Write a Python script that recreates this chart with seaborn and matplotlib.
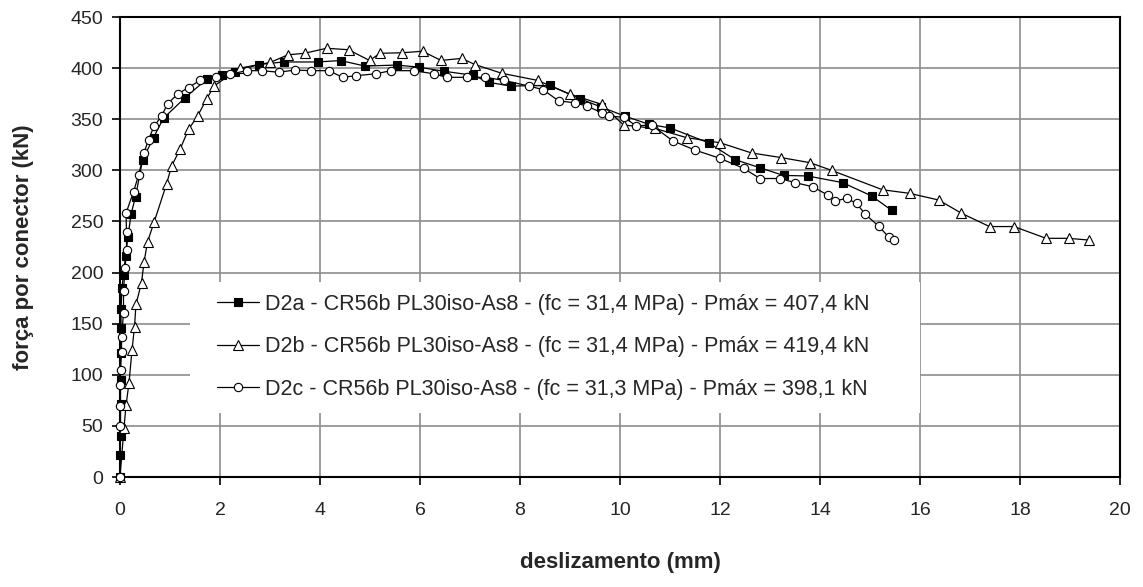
import matplotlib
matplotlib.use("Agg")
import matplotlib.pyplot as plt
from matplotlib.patches import Rectangle
import numpy as np
import pandas as pd
import seaborn as sns

# Load-slip curves of the three push-out specimens (slip in mm, load per connector in kN)
d2a_slip = [0, 0, 0.01, 0.01, 0.01, 0.01, 0.02, 0.02, 0.04, 0.07,
            0.11, 0.16, 0.22, 0.31, 0.45, 0.67, 0.87, 1.3, 1.73, 2.03,
            2.3, 2.77, 3.27, 3.95, 4.41, 4.9, 5.53, 5.97, 6.47, 7.06,
            7.38, 7.81, 8.6, 9.2, 9.62, 10.1, 10.58, 11.0, 11.77, 12.3,
            12.8, 13.27, 13.75, 14.45, 15.03, 15.43]
d2a_load = [0, 22, 40, 71, 95, 121, 146, 164, 185, 198,
            216, 235, 257, 274, 310, 332, 351, 371, 389, 393,
            396.5, 403.5, 406, 406, 407.4, 402, 403, 401, 397, 393,
            386, 382.5, 383, 370, 362, 353, 345, 341.5, 327, 310.5,
            302.5, 295, 294.5, 288, 275, 261]

d2b_slip = [0, 0.08, 0.12, 0.18, 0.24, 0.29, 0.32, 0.43, 0.48, 0.55,
            0.68, 0.93, 1.03, 1.2, 1.37, 1.55, 1.73, 1.88, 2.4, 3.0,
            3.36, 3.69, 4.13, 4.57, 4.99, 5.2, 5.64, 6.05, 6.42, 6.83,
            7.1, 7.63, 8.35, 8.99, 9.63, 10.07, 10.7, 11.33, 12.0, 12.63,
            13.22, 13.8, 14.23, 15.25, 15.79, 16.37, 16.83, 17.39, 17.88, 18.52,
            18.97, 19.37]
d2b_load = [0, 48, 70, 92, 124, 147, 169, 190, 210, 230,
            249, 286.5, 304, 320.5, 340, 353, 369.5, 382.5, 400, 405.5,
            413, 414.5, 419.4, 418, 407.5, 414.5, 415, 416.5, 407.5, 409.5,
            403.5, 395, 388, 374.7, 364.6, 344.4, 341, 332, 327, 317,
            312.5, 307.5, 300, 281, 277.5, 271, 258, 245, 245, 233.5,
            233.5, 231.8]

d2c_slip = [0, 0, 0, 0, 0.01, 0.03, 0.03, 0.07, 0.07, 0.1,
            0.13, 0.13, 0.12, 0.27, 0.37, 0.48, 0.57, 0.68, 0.83, 0.95,
            1.15, 1.37, 1.6, 1.92, 2.2, 2.53, 2.83, 3.17, 3.5, 3.82,
            4.18, 4.45, 4.71, 5.12, 5.42, 5.87, 6.27, 6.53, 6.94, 7.3,
            7.68, 8.17, 8.46, 8.77, 9.1, 9.33, 9.63, 9.77, 10.08, 10.32,
            10.63, 11.05, 11.49, 12.0, 12.47, 12.8, 13.2, 13.5, 13.85, 14.15,
            14.3, 14.53, 14.73, 14.9, 15.17, 15.37, 15.48]
d2c_load = [0, 50, 69, 90, 105, 122, 137, 160, 182, 204,
            222, 240, 258, 279, 295, 317, 330, 343, 353, 365,
            374.5, 381, 388, 391, 394, 397.5, 397.5, 396, 398.1, 397.5,
            397.5, 391, 392.5, 394.5, 397.5, 397.5, 394.5, 391, 391, 391,
            388, 382.5, 379, 368, 366, 363, 356.5, 353, 352, 343.5,
            344.4, 329, 320, 311.7, 302, 292, 292, 288, 284, 276,
            270, 272.6, 267.7, 257.3, 245.5, 235, 231.8]

series_labels = [
    "D2a - CR56b PL30iso-As8 - (fc = 31,4 MPa) - Pmáx = 407,4 kN",
    "D2b - CR56b PL30iso-As8 - (fc = 31,4 MPa) - Pmáx = 419,4 kN",
    "D2c - CR56b PL30iso-As8 - (fc = 31,3 MPa) - Pmáx = 398,1 kN",
]
x_ticks = list(range(0, 21, 2))
y_ticks = list(range(0, 451, 50))

sns.set_style("ticks")
plt.rcParams["font.family"] = ["Liberation Sans", "DejaVu Sans"]

fig = plt.figure(figsize=(11.43, 5.87), dpi=100)
ax = fig.add_axes([120 / 1143, 110 / 587, 1000 / 1143, 460 / 587])

styles = [
    dict(marker="s", markersize=5.4, markerfacecolor="black"),
    dict(marker="^", markersize=7.2, markerfacecolor="white"),
    dict(marker="o", markersize=6.0, markerfacecolor="white"),
]
curves = [(d2a_slip, d2a_load), (d2b_slip, d2b_load), (d2c_slip, d2c_load)]

handles = []
for (xs, ys), lab, st in zip(curves, series_labels, styles):
    df = pd.DataFrame({"slip": xs, "load": ys})
    n_before = len(ax.lines)
    sns.lineplot(data=df, x="slip", y="load", ax=ax, sort=False, estimator=None,
                 color="black", linewidth=0.9, markeredgecolor="black",
                 markeredgewidth=0.8, clip_on=False, zorder=4, **st)
    handles.append(ax.lines[n_before])

ax.set_xlim(0, 20)
ax.set_ylim(0, 450)
ax.set_xticks(x_ticks)
ax.set_yticks(y_ticks)
ax.grid(True, color="#8c8c8c", linewidth=1.2)
ax.set_axisbelow(True)
for side in ["left", "bottom", "top", "right"]:
    ax.spines[side].set_visible(True)
    ax.spines[side].set_color("black")
    ax.spines[side].set_linewidth(1.5)
ax.tick_params(axis="both", direction="out", length=6, width=1.2, color="black",
               labelsize=14, pad=6, top=False, right=False)
ax.tick_params(axis="x", pad=12)

ax.set_xlabel("deslizamento (mm)", fontsize=16, fontweight="bold", labelpad=24)
ax.set_ylabel("força por conector (kN)", fontsize=16, fontweight="bold", labelpad=26)

# white panel behind the legend entries hides the grid there
ax.add_patch(Rectangle((0.07, 0.139), 0.73, 0.285, transform=ax.transAxes,
                       facecolor="white", edgecolor="none", zorder=2))
leg = ax.legend(handles, series_labels, loc="upper left", bbox_to_anchor=(0.097, 0.398),
                frameon=False, fontsize=15.5, handlelength=1.95, handletextpad=0.3,
                labelspacing=1.0, borderpad=0, borderaxespad=0)
leg.set_zorder(6)

fig.savefig("out.png", dpi=100)
